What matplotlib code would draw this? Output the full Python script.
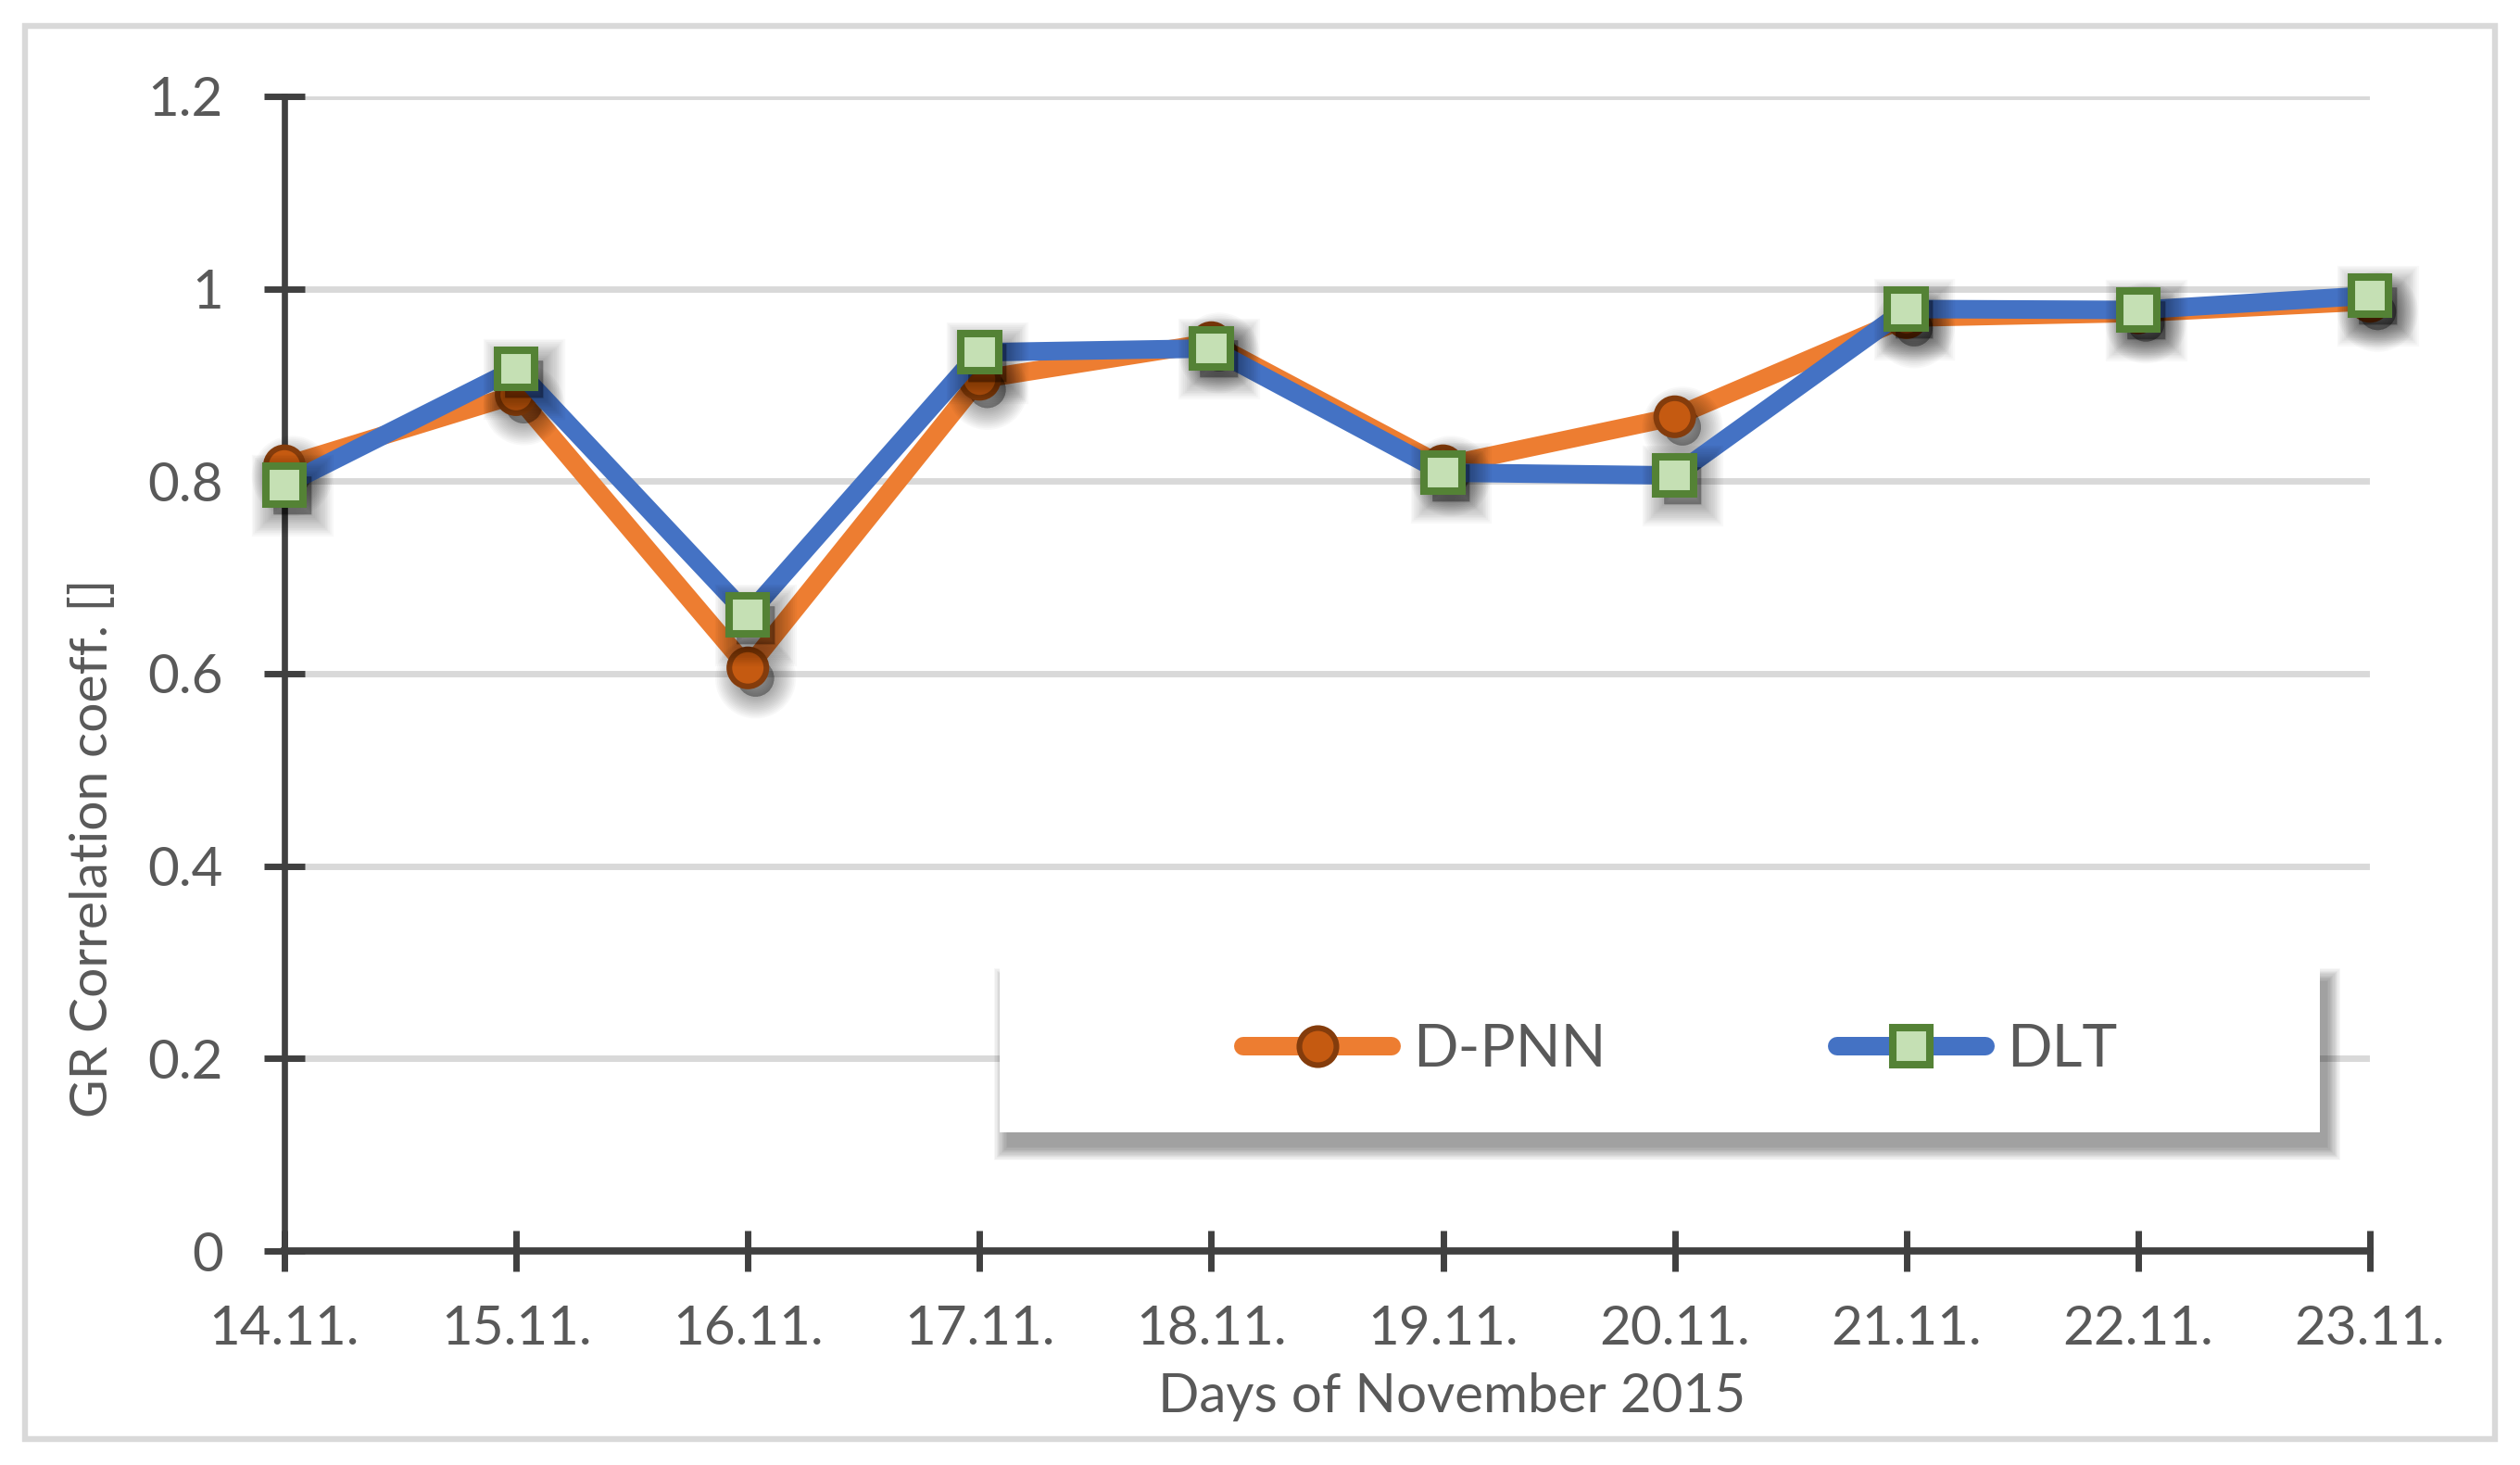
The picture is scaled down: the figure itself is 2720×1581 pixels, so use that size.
import numpy as np
import matplotlib
matplotlib.use("Agg")
import matplotlib.pyplot as plt
import matplotlib.patheffects as pe
from matplotlib.lines import Line2D
from matplotlib.patches import Rectangle

# data
days = ['14.11.', '15.11.', '16.11.', '17.11.', '18.11.',
        '19.11.', '20.11.', '21.11.', '22.11.', '23.11.']
dpnn = [0.816, 0.890, 0.606, 0.906, 0.944, 0.816, 0.867, 0.970, 0.975, 0.987]
dlt = [0.796, 0.917, 0.661, 0.934, 0.938, 0.809, 0.806, 0.979, 0.978, 0.993]
y_ticks = [0, 0.2, 0.4, 0.6, 0.8, 1, 1.2]
y_tick_labels = ['0', '0.2', '0.4', '0.6', '0.8', '1', '1.2']

plt.rcParams['font.family'] = ['Lato', 'DejaVu Sans']

W, H = 2720, 1581
fig = plt.figure(figsize=(W / 200, H / 200), dpi=200)

def fx(px):
    return px / W

def fy(py):
    return 1 - py / H

ax = fig.add_axes([fx(307), fy(1350), fx(2558) - fx(307), fy(104) - fy(1350)])

axis_col = '#404040'
text_col = '#595959'
orange, blue = '#ed7d31', '#4472c4'

x = np.arange(len(days))

# soft drop shadow for markers
shadow = [pe.SimplePatchShadow(offset=(3, -4), shadow_rgbFace='k', alpha=0.028,
                               linewidth=lw, foreground='k')
          for lw in np.linspace(17, 0, 14)] + [pe.Normal()]

circ = dict(marker='o', ms=14.4, mfc='#c55a11', mec='#843c0c', mew=2.2)
sq = dict(marker='s', ms=14.6, mfc='#c5e0b4', mec='#548235', mew=2.9)

ax.plot(x, dpnn, color=orange, lw=7.2, solid_joinstyle='round',
        solid_capstyle='round', zorder=3, clip_on=False)
ax.plot(x, dpnn, ls='none', zorder=4, clip_on=False, path_effects=shadow, **circ)
ax.plot(x, dlt, color=blue, lw=7.2, solid_joinstyle='round',
        solid_capstyle='round', zorder=5, clip_on=False)
ax.plot(x, dlt, ls='none', zorder=6, clip_on=False, path_effects=shadow, **sq)

ax.set_xlim(0, len(days) - 1)
ax.set_ylim(0, 1.2)
ax.set_xticks(x, days)
ax.set_yticks(y_ticks, y_tick_labels)

for s in ['top', 'right']:
    ax.spines[s].set_visible(False)
ax.spines['left'].set_color(axis_col)
ax.spines['left'].set_linewidth(2.4)
ax.spines['bottom'].set_color(axis_col)
ax.spines['bottom'].set_linewidth(2.8)

ax.tick_params(axis='both', direction='inout', length=15.5, width=2.5,
               color=axis_col, labelcolor=text_col, labelsize=21)
ax.tick_params(axis='y', pad=16)
ax.tick_params(axis='x', pad=13)

ax.yaxis.grid(True, color='#d9d9d9', lw=2.5)
ax.set_axisbelow(True)

fig.text(fx(101), fy(915), 'GR Correlation coeff. []', rotation=90,
         ha='center', va='center', fontsize=20.5, color=text_col)
fig.text(fx(1567), fy(1524), 'Days of November 2015', ha='center',
         va='baseline', fontsize=21, color=text_col)

# legend box with blurred shadow
bx0, bx1, by0, by1 = 1079, 2504, 1043, 1222
dx, dy = 8, 16
for g in np.linspace(14, 0, 12):
    ax.add_patch(Rectangle((fx(bx0 + dx - g), fy(by1 + dy + g)),
                           fx(bx1 - bx0 + 2 * g), (by1 - by0 + 2 * g) / H,
                           transform=fig.transFigure, fc='k', ec='none',
                           alpha=0.035, zorder=14, clip_on=False))
ax.add_patch(Rectangle((fx(bx0), fy(by1)), fx(bx1 - bx0), (by1 - by0) / H,
                       transform=fig.transFigure, fc='white', ec='none',
                       zorder=15, clip_on=False))

h1 = Line2D([], [], color=orange, lw=7.2, solid_capstyle='round', **circ)
h2 = Line2D([], [], color=blue, lw=7.2, solid_capstyle='round', **sq)
leg_kw = dict(loc='center left', bbox_transform=fig.transFigure, frameon=False,
              borderpad=0, borderaxespad=0, handlelength=2.5, handletextpad=0.36,
              prop=dict(size=23), labelcolor=text_col)
leg1 = ax.legend([h1], ['D-PNN'], bbox_to_anchor=(fx(1342), fy(1133)), **leg_kw)
leg1.set_zorder(20)
ax.add_artist(leg1)
leg2 = ax.legend([h2], ['DLT'], bbox_to_anchor=(fx(1983), fy(1133)), **leg_kw)
leg2.set_zorder(20)

# outer chart border
fig.add_artist(Rectangle((fx(27), fy(1553)), fx(2693 - 27), (1553 - 28) / H,
                         transform=fig.transFigure, fill=False,
                         ec='#d9d9d9', lw=2.3))

fig.savefig('out.png', dpi=200, facecolor='white')
